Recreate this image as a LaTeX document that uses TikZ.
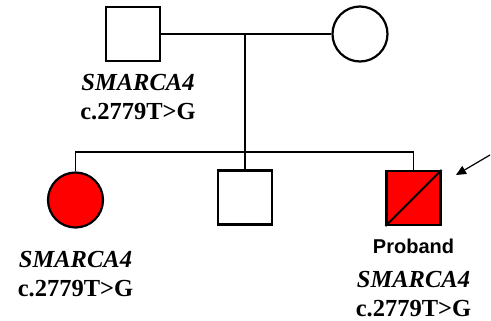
\documentclass[tikz,border=0pt]{standalone}
\usepackage{fontspec}
\setmainfont{Liberation Serif}
\setsansfont{Liberation Sans}
\usetikzlibrary{arrows.meta,positioning}
\tikzset{
  male/.style    ={draw, line width=2.2pt, minimum size=54pt, inner sep=0pt},
  female/.style  ={draw, circle, line width=2.2pt, minimum size=55pt, inner sep=0pt},
  affected/.style={fill=red},
  gene/.style    ={align=center, inner sep=0pt, font=\bfseries\fontsize{24.5}{29}\selectfont},
  link/.style    ={line width=1.7pt},
  pointer/.style ={-{Triangle[length=10pt,width=9pt]}, line width=1.2pt},
}

\begin{document}
\begin{tikzpicture}[x=1pt, y=-1pt]
  \useasboundingbox (0,0) rectangle (491,321);
  % parents
  \node[male] (fa) at (133,34) {};
  \node[female] (mo) at (360,34) {};
  \coordinate (mid) at (245,34);
  \draw[link] (fa.east) -- (mo.west);
  % children
  \node[female, affected] (da) at (75.5,200) {};
  \node[male] (so) at (245,197.5) {};
  \node[male, affected] (pb) at (413.5,198) {};
  \coordinate (sibmid) at (245,152);
  \draw[link] (mid) -- (so.north);
  \draw[link] (da.north) |- (sibmid) -| (pb.north);
  \draw[line width=2pt] (pb.south west) -- (pb.north east);
  % proband arrow
  \coordinate (arrtail) at (490,155);
  \coordinate (arrtip) at (456,175);
  \draw[pointer] (arrtail) -- (arrtip);
  % labels
  \node[gene, below=12pt of fa, xshift=5pt] (fagene) {\textit{SMARCA4}\\c.2779T>G};
  \node[gene, below=22pt of da] (dagene) {\textit{SMARCA4}\\c.2779T>G};
  \node[below=13pt of pb, inner sep=0pt, font=\sffamily\bfseries\fontsize{20}{24}\selectfont] (pblab) {Proband};
  \node[gene, below=17pt of pblab] (pbgene) {\textit{SMARCA4}\\c.2779T>G};
\end{tikzpicture}
\end{document}
